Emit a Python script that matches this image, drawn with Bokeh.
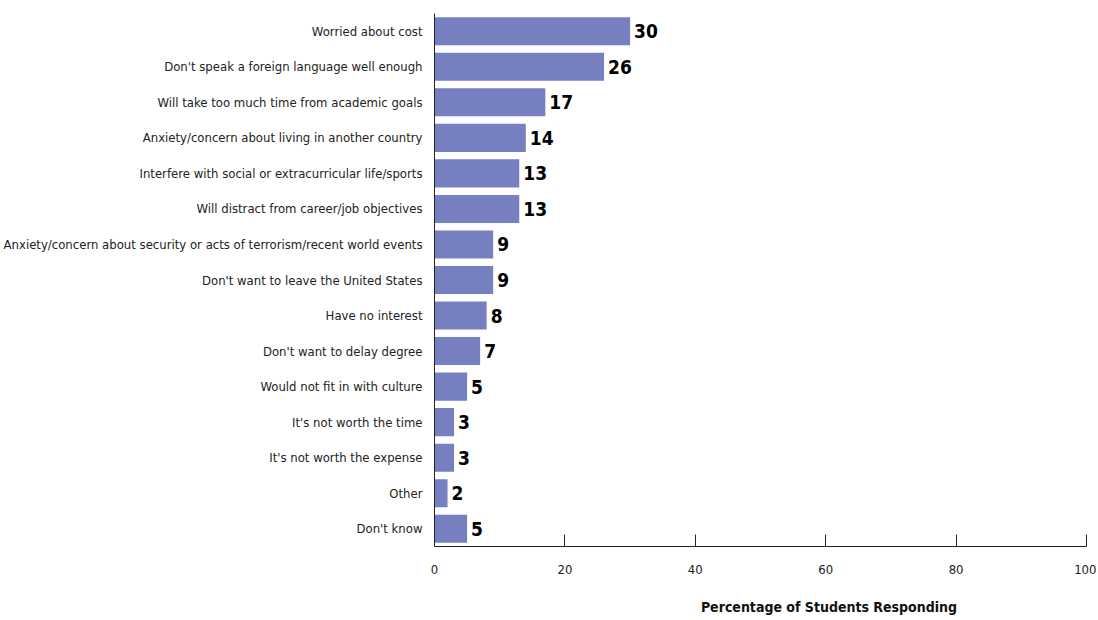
from bokeh.plotting import figure
from bokeh.models import ColumnDataSource, FixedTicker, LinearAxis
from bokeh.core.properties import value
from bokeh.embed import file_html
from bokeh.resources import INLINE

categories = [
    "Worried about cost",
    "Don't speak a foreign language well enough",
    "Will take too much time from academic goals",
    "Anxiety/concern about living in another country",
    "Interfere with social or extracurricular life/sports",
    "Will distract from career/job objectives",
    "Anxiety/concern about security or acts of terrorism/recent world events",
    "Don't want to leave the United States",
    "Have no interest",
    "Don't want to delay degree",
    "Would not fit in with culture",
    "It's not worth the time",
    "It's not worth the expense",
    "Other",
    "Don't know",
]
values = [30, 26, 17, 14, 13, 13, 9, 9, 8, 7, 5, 3, 3, 2, 5]
x_ticks = [0, 20, 40, 60, 80, 100]
x_title = "Percentage of Students Responding"

FONT = "DejaVu Sans Condensed"

src = ColumnDataSource(dict(cat=categories, val=values, lab=[str(v) for v in values]))

p = figure(
    y_range=list(reversed(categories)), x_range=(0, 100),
    width=1096, height=618, output_backend="svg", toolbar_location=None,
    min_border_left=433, min_border_right=10, min_border_top=13, min_border_bottom=72,
)
p.y_range.range_padding = 0

p.hbar(y="cat", right="val", left=0, height=0.79, source=src,
       fill_color="#767fc0", line_color=None)
p.text(x="val", y="cat", text="lab", source=src, x_offset=4,
       text_baseline="middle", text_align="left",
       text_font=value(FONT), text_font_style="bold", text_font_size="19px",
       text_color="#000000")

p.grid.visible = False
p.outline_line_color = None
p.background_fill_color = "white"
p.border_fill_color = "white"

xa = p.xaxis[0]
xa.ticker = FixedTicker(ticks=x_ticks)
xa.major_tick_in = 12
xa.major_tick_out = 0
xa.minor_tick_line_color = None
xa.axis_line_color = "#222222"
xa.major_tick_line_color = "#222222"
xa.major_label_text_font = FONT
xa.major_label_text_font_size = "13px"
xa.major_label_text_color = "#222222"
xa.major_label_standoff = 18

ya = p.yaxis[0]
ya.major_tick_line_color = None
ya.minor_tick_line_color = None
ya.axis_line_color = "#222222"
ya.major_label_text_font = FONT
ya.major_label_text_font_size = "13px"
ya.major_label_text_color = "#222222"
ya.major_label_standoff = 6

# axis title, placed right of centre as in the reference
title_axis = LinearAxis(
    ticker=FixedTicker(ticks=[60.5]),
    major_label_overrides={60.5: x_title},
    axis_line_color=None, major_tick_line_color=None, minor_tick_line_color=None,
    major_tick_in=0, major_tick_out=0,
    major_label_standoff=22,
    major_label_text_font=FONT, major_label_text_font_style="bold",
    major_label_text_font_size="14px", major_label_text_color="#111111",
)
p.add_layout(title_axis, "below")

open("out.html", "w").write(file_html(p, INLINE))
